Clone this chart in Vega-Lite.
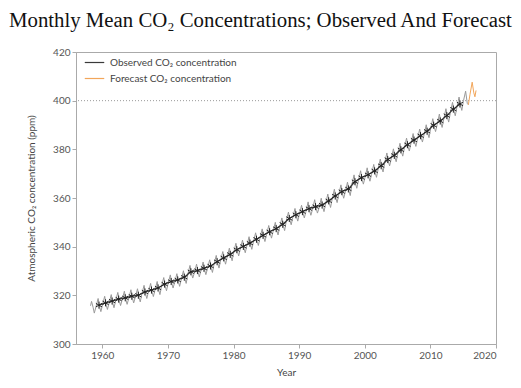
{
  "$schema": "https://vega.github.io/schema/vega-lite/v6.json",
  "width": 420,
  "height": 292,
  "autosize": {"type": "none"},
  "padding": {"left": 76, "top": 52, "right": 25, "bottom": 44},
  "background": "white",
  "title": {
    "text": "Monthly Mean CO₂ Concentrations; Observed And Forecast",
    "anchor": "start",
    "frame": "group",
    "dx": -67,
    "offset": -1,
    "baseline": "alphabetic",
    "font": "Liberation Serif",
    "fontSize": 20.8,
    "fontWeight": "normal",
    "color": "#111111"
  },
  "config": {
    "view": {"stroke": "#aaaaaa", "strokeWidth": 1},
    "axis": {
      "domainColor": "#aaaaaa",
      "tickColor": "#aaaaaa",
      "tickSize": 4,
      "labelColor": "#555555",
      "labelFont": "Lato",
      "labelFontSize": 10,
      "titleFont": "Lato",
      "titleFontSize": 10,
      "titleFontWeight": "normal",
      "titleColor": "#444444",
      "grid": false,
      "labelPadding": 2
    }
  },
  "datasets": {
    "monthly": [
      {"t": 1958.21, "c": 315.7}, {"t": 1958.37, "c": 317.5}, {"t": 1958.62, "c": 314.9}, {"t": 1958.79, "c": 312.7},
      {"t": 1959.04, "c": 315.2}, {"t": 1959.37, "c": 318.7}, {"t": 1959.62, "c": 315.0}, {"t": 1959.79, "c": 313.3},
      {"t": 1960.04, "c": 316.1}, {"t": 1960.37, "c": 319.6}, {"t": 1960.62, "c": 315.9}, {"t": 1960.79, "c": 314.2},
      {"t": 1961.04, "c": 316.8}, {"t": 1961.37, "c": 320.3}, {"t": 1961.62, "c": 316.6}, {"t": 1961.79, "c": 314.9},
      {"t": 1962.04, "c": 317.7}, {"t": 1962.37, "c": 321.2}, {"t": 1962.62, "c": 317.5}, {"t": 1962.79, "c": 315.8},
      {"t": 1963.04, "c": 318.2}, {"t": 1963.37, "c": 321.7}, {"t": 1963.62, "c": 318.0}, {"t": 1963.79, "c": 316.3},
      {"t": 1964.04, "c": 318.8}, {"t": 1964.37, "c": 322.3}, {"t": 1964.62, "c": 318.6}, {"t": 1964.79, "c": 316.9},
      {"t": 1965.04, "c": 319.2}, {"t": 1965.37, "c": 322.7}, {"t": 1965.62, "c": 319.0}, {"t": 1965.79, "c": 317.3},
      {"t": 1966.04, "c": 320.6}, {"t": 1966.37, "c": 324.1}, {"t": 1966.62, "c": 320.4}, {"t": 1966.79, "c": 318.7},
      {"t": 1967.04, "c": 321.4}, {"t": 1967.37, "c": 324.9}, {"t": 1967.62, "c": 321.2}, {"t": 1967.79, "c": 319.5},
      {"t": 1968.04, "c": 322.2}, {"t": 1968.37, "c": 325.7}, {"t": 1968.62, "c": 322.0}, {"t": 1968.79, "c": 320.3},
      {"t": 1969.04, "c": 323.8}, {"t": 1969.37, "c": 327.3}, {"t": 1969.62, "c": 323.6}, {"t": 1969.79, "c": 321.9},
      {"t": 1970.04, "c": 324.9}, {"t": 1970.37, "c": 328.4}, {"t": 1970.62, "c": 324.7}, {"t": 1970.79, "c": 323.0},
      {"t": 1971.04, "c": 325.3}, {"t": 1971.37, "c": 328.9}, {"t": 1971.62, "c": 325.4}, {"t": 1971.79, "c": 323.7},
      {"t": 1972.04, "c": 326.5}, {"t": 1972.37, "c": 330.1}, {"t": 1972.62, "c": 326.6}, {"t": 1972.79, "c": 324.9},
      {"t": 1973.04, "c": 328.7}, {"t": 1973.37, "c": 332.3}, {"t": 1973.62, "c": 328.8}, {"t": 1973.79, "c": 327.1},
      {"t": 1974.04, "c": 329.2}, {"t": 1974.37, "c": 332.8}, {"t": 1974.62, "c": 329.3}, {"t": 1974.79, "c": 327.6},
      {"t": 1975.04, "c": 330.1}, {"t": 1975.37, "c": 333.7}, {"t": 1975.62, "c": 330.2}, {"t": 1975.79, "c": 328.5},
      {"t": 1976.04, "c": 331.0}, {"t": 1976.37, "c": 334.6}, {"t": 1976.62, "c": 331.1}, {"t": 1976.79, "c": 329.4},
      {"t": 1977.04, "c": 332.8}, {"t": 1977.37, "c": 336.4}, {"t": 1977.62, "c": 332.9}, {"t": 1977.79, "c": 331.2},
      {"t": 1978.04, "c": 334.4}, {"t": 1978.37, "c": 338.0}, {"t": 1978.62, "c": 334.5}, {"t": 1978.79, "c": 332.8},
      {"t": 1979.04, "c": 335.8}, {"t": 1979.37, "c": 339.4}, {"t": 1979.62, "c": 335.9}, {"t": 1979.79, "c": 334.2},
      {"t": 1980.04, "c": 337.8}, {"t": 1980.37, "c": 341.4}, {"t": 1980.62, "c": 337.9}, {"t": 1980.79, "c": 336.2},
      {"t": 1981.04, "c": 339.0}, {"t": 1981.37, "c": 342.7}, {"t": 1981.62, "c": 339.2}, {"t": 1981.79, "c": 337.5},
      {"t": 1982.04, "c": 340.4}, {"t": 1982.37, "c": 344.1}, {"t": 1982.62, "c": 340.6}, {"t": 1982.79, "c": 338.9},
      {"t": 1983.04, "c": 342.0}, {"t": 1983.37, "c": 345.7}, {"t": 1983.62, "c": 342.2}, {"t": 1983.79, "c": 340.5},
      {"t": 1984.04, "c": 343.6}, {"t": 1984.37, "c": 347.3}, {"t": 1984.62, "c": 343.8}, {"t": 1984.79, "c": 342.1},
      {"t": 1985.04, "c": 345.0}, {"t": 1985.37, "c": 348.7}, {"t": 1985.62, "c": 345.2}, {"t": 1985.79, "c": 343.5},
      {"t": 1986.04, "c": 346.3}, {"t": 1986.37, "c": 350.0}, {"t": 1986.62, "c": 346.5}, {"t": 1986.79, "c": 344.8},
      {"t": 1987.04, "c": 348.1}, {"t": 1987.37, "c": 351.8}, {"t": 1987.62, "c": 348.3}, {"t": 1987.79, "c": 346.6},
      {"t": 1988.04, "c": 350.5}, {"t": 1988.37, "c": 354.2}, {"t": 1988.62, "c": 350.7}, {"t": 1988.79, "c": 349.0},
      {"t": 1989.04, "c": 352.0}, {"t": 1989.37, "c": 355.7}, {"t": 1989.62, "c": 352.2}, {"t": 1989.79, "c": 350.5},
      {"t": 1990.04, "c": 353.3}, {"t": 1990.37, "c": 357.0}, {"t": 1990.62, "c": 353.5}, {"t": 1990.79, "c": 351.8},
      {"t": 1991.04, "c": 354.4}, {"t": 1991.37, "c": 358.4}, {"t": 1991.62, "c": 354.6}, {"t": 1991.79, "c": 352.9},
      {"t": 1992.04, "c": 355.3}, {"t": 1992.37, "c": 359.3}, {"t": 1992.62, "c": 355.5}, {"t": 1992.79, "c": 353.8},
      {"t": 1993.04, "c": 355.9}, {"t": 1993.37, "c": 359.9}, {"t": 1993.62, "c": 356.1}, {"t": 1993.79, "c": 354.4},
      {"t": 1994.04, "c": 357.6}, {"t": 1994.37, "c": 361.6}, {"t": 1994.62, "c": 357.8}, {"t": 1994.79, "c": 356.1},
      {"t": 1995.04, "c": 359.6}, {"t": 1995.37, "c": 363.6}, {"t": 1995.62, "c": 359.8}, {"t": 1995.79, "c": 358.1},
      {"t": 1996.04, "c": 361.4}, {"t": 1996.37, "c": 365.4}, {"t": 1996.62, "c": 361.6}, {"t": 1996.79, "c": 359.9},
      {"t": 1997.04, "c": 362.5}, {"t": 1997.37, "c": 366.5}, {"t": 1997.62, "c": 362.7}, {"t": 1997.79, "c": 361.0},
      {"t": 1998.04, "c": 365.5}, {"t": 1998.37, "c": 369.5}, {"t": 1998.62, "c": 365.7}, {"t": 1998.79, "c": 364.0},
      {"t": 1999.04, "c": 367.2}, {"t": 1999.37, "c": 371.2}, {"t": 1999.62, "c": 367.4}, {"t": 1999.79, "c": 365.7},
      {"t": 2000.04, "c": 368.4}, {"t": 2000.37, "c": 372.4}, {"t": 2000.62, "c": 368.6}, {"t": 2000.79, "c": 366.9},
      {"t": 2001.04, "c": 369.7}, {"t": 2001.37, "c": 373.8}, {"t": 2001.62, "c": 370.1}, {"t": 2001.79, "c": 368.5},
      {"t": 2002.04, "c": 371.9}, {"t": 2002.37, "c": 376.0}, {"t": 2002.62, "c": 372.3}, {"t": 2002.79, "c": 370.7},
      {"t": 2003.04, "c": 374.4}, {"t": 2003.37, "c": 378.5}, {"t": 2003.62, "c": 374.8}, {"t": 2003.79, "c": 373.2},
      {"t": 2004.04, "c": 376.1}, {"t": 2004.37, "c": 380.2}, {"t": 2004.62, "c": 376.5}, {"t": 2004.79, "c": 374.9},
      {"t": 2005.04, "c": 378.4}, {"t": 2005.37, "c": 382.5}, {"t": 2005.62, "c": 378.8}, {"t": 2005.79, "c": 377.2},
      {"t": 2006.04, "c": 380.5}, {"t": 2006.37, "c": 384.6}, {"t": 2006.62, "c": 380.9}, {"t": 2006.79, "c": 379.3},
      {"t": 2007.04, "c": 382.4}, {"t": 2007.37, "c": 386.5}, {"t": 2007.62, "c": 382.8}, {"t": 2007.79, "c": 381.2},
      {"t": 2008.04, "c": 384.2}, {"t": 2008.37, "c": 388.3}, {"t": 2008.62, "c": 384.6}, {"t": 2008.79, "c": 383.0},
      {"t": 2009.04, "c": 386.0}, {"t": 2009.37, "c": 390.1}, {"t": 2009.62, "c": 386.4}, {"t": 2009.79, "c": 384.8},
      {"t": 2010.04, "c": 388.5}, {"t": 2010.37, "c": 392.6}, {"t": 2010.62, "c": 388.9}, {"t": 2010.79, "c": 387.3},
      {"t": 2011.04, "c": 390.2}, {"t": 2011.37, "c": 394.5}, {"t": 2011.62, "c": 390.8}, {"t": 2011.79, "c": 389.0},
      {"t": 2012.04, "c": 392.4}, {"t": 2012.37, "c": 396.7}, {"t": 2012.62, "c": 393.0}, {"t": 2012.79, "c": 391.2},
      {"t": 2013.04, "c": 395.0}, {"t": 2013.37, "c": 399.3}, {"t": 2013.62, "c": 395.6}, {"t": 2013.79, "c": 393.8},
      {"t": 2014.04, "c": 397.2}, {"t": 2014.37, "c": 401.5}, {"t": 2014.62, "c": 397.8}, {"t": 2014.79, "c": 396.0},
      {"t": 2015.04, "c": 399.9}, {"t": 2015.37, "c": 403.9}, {"t": 2015.62, "c": 398.9}, {"t": 2015.79, "c": 398.3}
    ],
    "forecast": [
      {"t": 2015.79, "c": 398.3}, {"t": 2016.04, "c": 402.6}, {"t": 2016.37, "c": 407.6},
      {"t": 2016.62, "c": 403.2}, {"t": 2016.79, "c": 401.6}, {"t": 2016.96, "c": 404.2}
    ],
    "annual": [
      {"t": 1959.5, "c": 315.97, "s": "Observed CO₂ concentration"},
      {"t": 1960.5, "c": 316.91, "s": "Observed CO₂ concentration"},
      {"t": 1961.5, "c": 317.64, "s": "Observed CO₂ concentration"},
      {"t": 1962.5, "c": 318.45, "s": "Observed CO₂ concentration"},
      {"t": 1963.5, "c": 318.99, "s": "Observed CO₂ concentration"},
      {"t": 1964.5, "c": 319.62, "s": "Observed CO₂ concentration"},
      {"t": 1965.5, "c": 320.04, "s": "Observed CO₂ concentration"},
      {"t": 1966.5, "c": 321.38, "s": "Observed CO₂ concentration"},
      {"t": 1967.5, "c": 322.16, "s": "Observed CO₂ concentration"},
      {"t": 1968.5, "c": 323.04, "s": "Observed CO₂ concentration"},
      {"t": 1969.5, "c": 324.62, "s": "Observed CO₂ concentration"},
      {"t": 1970.5, "c": 325.68, "s": "Observed CO₂ concentration"},
      {"t": 1971.5, "c": 326.32, "s": "Observed CO₂ concentration"},
      {"t": 1972.5, "c": 327.45, "s": "Observed CO₂ concentration"},
      {"t": 1973.5, "c": 329.68, "s": "Observed CO₂ concentration"},
      {"t": 1974.5, "c": 330.18, "s": "Observed CO₂ concentration"},
      {"t": 1975.5, "c": 331.11, "s": "Observed CO₂ concentration"},
      {"t": 1976.5, "c": 332.04, "s": "Observed CO₂ concentration"},
      {"t": 1977.5, "c": 333.83, "s": "Observed CO₂ concentration"},
      {"t": 1978.5, "c": 335.4, "s": "Observed CO₂ concentration"},
      {"t": 1979.5, "c": 336.84, "s": "Observed CO₂ concentration"},
      {"t": 1980.5, "c": 338.75, "s": "Observed CO₂ concentration"},
      {"t": 1981.5, "c": 340.11, "s": "Observed CO₂ concentration"},
      {"t": 1982.5, "c": 341.45, "s": "Observed CO₂ concentration"},
      {"t": 1983.5, "c": 343.05, "s": "Observed CO₂ concentration"},
      {"t": 1984.5, "c": 344.65, "s": "Observed CO₂ concentration"},
      {"t": 1985.5, "c": 346.12, "s": "Observed CO₂ concentration"},
      {"t": 1986.5, "c": 347.42, "s": "Observed CO₂ concentration"},
      {"t": 1987.5, "c": 349.19, "s": "Observed CO₂ concentration"},
      {"t": 1988.5, "c": 351.57, "s": "Observed CO₂ concentration"},
      {"t": 1989.5, "c": 353.12, "s": "Observed CO₂ concentration"},
      {"t": 1990.5, "c": 354.39, "s": "Observed CO₂ concentration"},
      {"t": 1991.5, "c": 355.61, "s": "Observed CO₂ concentration"},
      {"t": 1992.5, "c": 356.45, "s": "Observed CO₂ concentration"},
      {"t": 1993.5, "c": 357.1, "s": "Observed CO₂ concentration"},
      {"t": 1994.5, "c": 358.83, "s": "Observed CO₂ concentration"},
      {"t": 1995.5, "c": 360.82, "s": "Observed CO₂ concentration"},
      {"t": 1996.5, "c": 362.61, "s": "Observed CO₂ concentration"},
      {"t": 1997.5, "c": 363.73, "s": "Observed CO₂ concentration"},
      {"t": 1998.5, "c": 366.7, "s": "Observed CO₂ concentration"},
      {"t": 1999.5, "c": 368.38, "s": "Observed CO₂ concentration"},
      {"t": 2000.5, "c": 369.55, "s": "Observed CO₂ concentration"},
      {"t": 2001.5, "c": 371.14, "s": "Observed CO₂ concentration"},
      {"t": 2002.5, "c": 373.28, "s": "Observed CO₂ concentration"},
      {"t": 2003.5, "c": 375.8, "s": "Observed CO₂ concentration"},
      {"t": 2004.5, "c": 377.52, "s": "Observed CO₂ concentration"},
      {"t": 2005.5, "c": 379.8, "s": "Observed CO₂ concentration"},
      {"t": 2006.5, "c": 381.9, "s": "Observed CO₂ concentration"},
      {"t": 2007.5, "c": 383.79, "s": "Observed CO₂ concentration"},
      {"t": 2008.5, "c": 385.6, "s": "Observed CO₂ concentration"},
      {"t": 2009.5, "c": 387.43, "s": "Observed CO₂ concentration"},
      {"t": 2010.5, "c": 389.9, "s": "Observed CO₂ concentration"},
      {"t": 2011.5, "c": 391.65, "s": "Observed CO₂ concentration"},
      {"t": 2012.5, "c": 393.85, "s": "Observed CO₂ concentration"},
      {"t": 2013.5, "c": 396.52, "s": "Observed CO₂ concentration"},
      {"t": 2014.5, "c": 398.65, "s": "Observed CO₂ concentration"}
    ]
  },
  "layer": [
    {
      "data": {"values": [{"level": 400}]},
      "mark": {"type": "rule", "strokeDash": [1, 2], "color": "#999999", "strokeWidth": 1},
      "encoding": {
        "y": {"field": "level", "type": "quantitative", "scale": {"domain": [300, 420], "nice": false, "zero": false}}
      }
    },
    {
      "data": {"name": "monthly"},
      "mark": {"type": "line", "color": "#9a9a9a", "strokeWidth": 1},
      "encoding": {
        "x": {"field": "t", "type": "quantitative", "scale": {"domain": [1956, 2020], "nice": false, "zero": false},
          "axis": {"values": [1960, 1970, 1980, 1990, 2000, 2010, 2020], "format": "d", "title": "Year", "titlePadding": 7}},
        "y": {"field": "c", "type": "quantitative",
          "axis": {"values": [300, 320, 340, 360, 380, 400, 420], "title": "Atmospheric CO₂ concentration (ppm)", "titlePadding": 16}}
      }
    },
    {
      "data": {"name": "forecast"},
      "mark": {"type": "line", "color": "#f2a65a", "strokeWidth": 1},
      "encoding": {
        "x": {"field": "t", "type": "quantitative"},
        "y": {"field": "c", "type": "quantitative"}
      }
    },
    {
      "data": {"name": "annual"},
      "mark": {"type": "line", "strokeWidth": 1.3},
      "encoding": {
        "x": {"field": "t", "type": "quantitative"},
        "y": {"field": "c", "type": "quantitative"},
        "color": {
          "field": "s", "type": "nominal",
          "scale": {"domain": ["Observed CO₂ concentration", "Forecast CO₂ concentration"], "range": ["#3a3a3a", "#f2a65a"]},
          "legend": {
            "title": null, "orient": "none", "legendX": 8, "legendY": 0,
            "symbolType": "stroke", "symbolSize": 380, "symbolStrokeWidth": 1.2,
            "labelFont": "Lato", "labelFontSize": 10, "labelColor": "#444444",
            "rowPadding": -6, "labelOffset": 5, "padding": 0
          }
        }
      }
    },
    {
      "data": {"name": "annual"},
      "mark": {"type": "point", "shape": "M0,-1L0,1M-0.87,-0.5L0.87,0.5M-0.87,0.5L0.87,-0.5", "filled": false, "size": 50, "strokeWidth": 1, "color": "#222222", "opacity": 1},
      "encoding": {
        "x": {"field": "t", "type": "quantitative"},
        "y": {"field": "c", "type": "quantitative"}
      }
    }
  ]
}
